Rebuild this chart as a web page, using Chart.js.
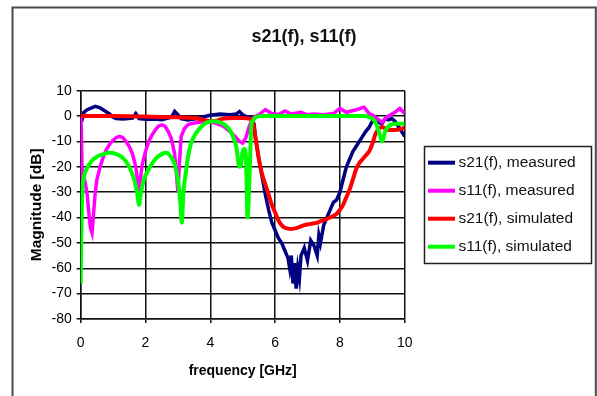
<!DOCTYPE html>
<html>
<head>
<meta charset="utf-8">
<script src="https://cdn.jsdelivr.net/npm/chart.js@4.4.0/dist/chart.umd.min.js"></script>
<style>
  html, body { margin: 0; padding: 0; background: #fff; }
  canvas { display: block; }
</style>
</head>
<body>
<canvas id="sparamChart" width="597" height="396"></canvas>
<script>
// tick labels
const xTicks = [0, 2, 4, 6, 8, 10];
const yTicks = [10, 0, -10, -20, -30, -40, -50, -60, -70, -80];

// s21(f), measured  (GHz / dB)
const s21MeasF = [0, 0.05, 0.1, 0.2, 0.3, 0.45, 0.6, 0.75, 0.9, 1.0, 1.1, 1.3, 1.6, 1.7, 1.8, 2.0, 2.3, 2.5, 2.8, 2.9, 3.0, 3.1, 3.3, 3.5, 3.8, 4.0, 4.3, 4.6, 4.8, 4.9, 5.0, 5.15, 5.25, 5.35, 5.4, 5.5, 5.6, 5.7, 5.8, 5.9, 6.0, 6.1, 6.2, 6.3, 6.4, 6.45, 6.5, 6.55, 6.6, 6.65, 6.7, 6.75, 6.8, 6.9, 7.0, 7.1, 7.2, 7.3, 7.35, 7.4, 7.5, 7.6, 7.7, 7.8, 7.9, 8.0, 8.1, 8.2, 8.3, 8.4, 8.5, 8.6, 8.7, 8.8, 8.9, 9.0, 9.1, 9.2, 9.3, 9.4, 9.5, 9.6, 9.7, 9.8, 9.9, 10];
const s21MeasDb = [0, -1, 1.5, 2.5, 3, 3.8, 3.2, 2, 0.8, -0.5, -1, -1.2, -0.8, 1, -1, -1.3, -1.2, -1.4, -0.5, 1.8, 0.5, -1, -1.5, -1.2, -0.3, 0.3, 0.8, 0.5, 0.8, 1.8, 0.5, -0.5, -0.5, -3, -9, -17, -24, -31, -37, -42, -45, -48, -50, -53, -56, -60, -55, -66, -58, -68, -60, -64, -55, -52, -57, -49, -51, -55, -47, -50, -43, -40, -37, -34, -33, -30, -25, -20, -17, -14, -12, -10, -8, -6, -4.5, -2, -1, -2.5, -3, -1, -1.5, -1, -2, -4, -6, -8];

// s11(f), measured
const s11MeasF = [0, 0.02, 0.05, 0.1, 0.15, 0.2, 0.25, 0.3, 0.35, 0.4, 0.45, 0.5, 0.6, 0.7, 0.8, 0.9, 1.0, 1.1, 1.2, 1.3, 1.4, 1.5, 1.6, 1.7, 1.75, 1.8, 1.85, 1.9, 2.0, 2.1, 2.2, 2.3, 2.4, 2.5, 2.6, 2.7, 2.8, 2.9, 2.95, 3.0, 3.05, 3.1, 3.2, 3.3, 3.4, 3.6, 3.8, 4.0, 4.2, 4.4, 4.6, 4.8, 4.9, 5.0, 5.1, 5.2, 5.3, 5.4, 5.5, 5.7, 5.9, 6.1, 6.3, 6.5, 6.8, 7.0, 7.2, 7.5, 7.8, 8.0, 8.2, 8.5, 8.75, 8.9, 9.05, 9.2, 9.3, 9.4, 9.5, 9.7, 9.85, 10];
const s11MeasDb = [0, -5, -28, -24, -27, -31, -38, -44, -46, -38, -30, -25, -20, -16, -13, -11, -9.5, -8.5, -8, -8.5, -10, -12, -15, -20, -25, -30, -24, -19, -14, -10, -7.5, -5.5, -4, -3.5, -4, -6, -9, -15, -22, -30, -18, -8, -5, -3.5, -3, -2.5, -2.2, -2.3, -3, -4, -6, -8.5, -10, -10.7, -8.5, -4, -1, 0, 0.5, 2.5, 1, 0.5, 2, 0.8, 1.5, 0.5, 0.8, 0.5, 1, 3, 1.5, 2.5, 3.5, 1, 0, -1.5, -2.5, -1, 0, 1.5, 3, 1];

// s21(f), simulated
const s21SimF = [0, 1, 2, 3, 3.5, 3.8, 4.0, 4.2, 4.4, 4.7, 5.0, 5.2, 5.3, 5.4, 5.5, 5.6, 5.7, 5.8, 5.9, 6.0, 6.1, 6.2, 6.3, 6.5, 6.7, 6.9, 7.1, 7.3, 7.5, 7.7, 7.9, 8.0, 8.1, 8.2, 8.3, 8.4, 8.5, 8.6, 8.7, 8.8, 8.9, 9.0, 9.1, 9.2, 9.3, 9.5, 9.7, 10];
const s21SimDb = [0, 0, -0.2, -0.5, -0.8, -1.5, -2, -1.8, -1, -0.8, -0.8, -1, -2, -9, -17, -23, -27, -31, -35, -38, -41, -43, -44, -44.5, -44, -43, -42.5, -42, -41, -40, -38.5, -37, -35, -32, -29, -25, -21, -18.5, -17, -15.5, -14, -11, -7, -5, -4.3, -5.5, -5.5, -4.7];

// s11(f), simulated
const s11SimF = [0, 0.02, 0.05, 0.1, 0.2, 0.35, 0.5, 0.7, 0.9, 1.1, 1.3, 1.5, 1.65, 1.75, 1.8, 1.85, 1.95, 2.1, 2.3, 2.5, 2.65, 2.75, 2.9, 3.0, 3.08, 3.12, 3.17, 3.25, 3.3, 3.4, 3.5, 3.7, 3.9, 4.1, 4.3, 4.5, 4.65, 4.8, 4.9, 4.95, 5.0, 5.05, 5.1, 5.15, 5.22, 5.27, 5.3, 5.4, 5.6, 6.5, 7.5, 8.5, 8.8, 8.9, 9.0, 9.1, 9.2, 9.3, 9.4, 9.5, 9.7, 10];
const s11SimDb = [-66, -45, -30, -24, -20.5, -17.5, -16, -15, -14.5, -15, -16.5, -20, -25, -31, -35, -31, -25, -21, -17, -15, -14.5, -15.5, -19, -25, -35, -42, -30, -22, -17, -11, -8, -4.5, -2.5, -2, -2.5, -4, -6.5, -12, -20, -19, -14, -13, -16, -40, -20, -3, -2, -0.5, 0, 0, 0, 0, 0, -0.5, -1, -2.5, -6, -10, -6, -4, -3, -3];

const seriesNames = ["s21(f), measured", "s11(f), measured", "s21(f), simulated", "s11(f), simulated"];
const seriesColors = ["#000080", "#ff00ff", "#ff0000", "#00ff00"];

function pts(f, db) {
  return f.map((x, i) => ({ x: x, y: db[i] }));
}

const FONT = "'Liberation Sans', Arial, sans-serif";

// outer frame of the chart object
const framePlugin = {
  id: "frame",
  beforeDraw(chart) {
    const ctx = chart.ctx;
    ctx.save();
    ctx.strokeStyle = "#4a4a4a";
    ctx.lineWidth = 2;
    ctx.beginPath();
    ctx.moveTo(12.5, 400);
    ctx.lineTo(12.5, 7.5);
    ctx.lineTo(595.8, 7.5);
    ctx.lineTo(595.8, 400);
    ctx.stroke();
    ctx.restore();
  }
};

// boxed legend, Excel style
const boxLegend = {
  id: "boxLegend",
  afterDraw(chart) {
    const ctx = chart.ctx;
    const left = 424.5, top = 146.5, w = 167, h = 117;
    ctx.save();
    ctx.strokeStyle = "#222";
    ctx.lineWidth = 1.5;
    ctx.strokeRect(left, top, w, h);
    ctx.font = "15.5px " + FONT;
    ctx.textBaseline = "middle";
    ctx.fillStyle = "#111";
    chart.data.datasets.forEach((ds, i) => {
      const y = 162.7 + i * 28;
      ctx.strokeStyle = ds.borderColor;
      ctx.lineWidth = 4;
      ctx.beginPath();
      ctx.moveTo(428, y);
      ctx.lineTo(455, y);
      ctx.stroke();
      ctx.fillText(ds.label, 458.5, y + 0.5);
    });
    ctx.restore();
  }
};

const series = [
  pts(s21MeasF, s21MeasDb),
  pts(s11MeasF, s11MeasDb),
  pts(s21SimF, s21SimDb),
  pts(s11SimF, s11SimDb)
];
const widths = [3.5, 3.5, 4, 4];
const drawOrder = [3, 2, 1, 0];

const ctx = document.getElementById("sparamChart").getContext("2d");
const sparamChart = new Chart(ctx, {
  type: "line",
  data: {
    datasets: series.map((d, i) => ({
      label: seriesNames[i],
      data: d,
      borderColor: seriesColors[i],
      backgroundColor: seriesColors[i],
      borderWidth: widths[i],
      pointRadius: 0,
      fill: false,
      order: drawOrder[i],
      cubicInterpolationMode: i >= 2 ? "monotone" : "default",
      tension: 0
    }))
  },
  options: {
    responsive: false,
    animation: false,
    devicePixelRatio: 1,
    layout: { padding: { left: 20, right: 9, top: 10, bottom: 10 } },
    plugins: {
      legend: { display: false },
      tooltip: { enabled: false },
      title: {
        display: true,
        text: "s21(f), s11(f)",
        color: "#111",
        font: { family: FONT, size: 18, weight: "bold" },
        padding: { top: 16.5, bottom: 42.6 }
      }
    },
    scales: {
      x: {
        type: "linear",
        min: 0,
        max: 10,
        afterBuildTicks: s => { s.ticks = xTicks.map(v => ({ value: v })); },
        afterFit: s => { s.height = 67; },
        ticks: { color: "#000", font: { family: FONT, size: 14 }, padding: 12, maxRotation: 0 },
        grid: { color: "#111", lineWidth: 1.5, tickLength: 4 },
        border: { color: "#111", width: 1.5 },
        title: {
          display: true,
          text: "frequency [GHz]",
          color: "#000",
          font: { family: FONT, size: 14, weight: "bold" },
          padding: { top: 0, bottom: 6 }
        }
      },
      y: {
        type: "linear",
        min: -80,
        max: 10,
        afterBuildTicks: s => { s.ticks = yTicks.map(v => ({ value: v })); },
        afterFit: s => { s.width = 60.7; },
        ticks: { color: "#000", font: { family: FONT, size: 14 }, padding: 5 },
        grid: { color: "#111", lineWidth: 1.5, tickLength: 4 },
        border: { color: "#111", width: 1.5 },
        title: {
          display: true,
          text: "Magnitude [dB]",
          color: "#000",
          font: { family: FONT, size: 15.5, weight: "bold" },
          padding: { top: 7, bottom: 0 }
        }
      },
      legendSpace: {
        type: "linear",
        position: "right",
        display: true,
        afterFit: s => { s.width = 183.3; },
        ticks: { display: false },
        grid: { display: false, drawTicks: false },
        border: { display: false }
      }
    }
  },
  plugins: [framePlugin, boxLegend]
});
</script>
</body>
</html>
